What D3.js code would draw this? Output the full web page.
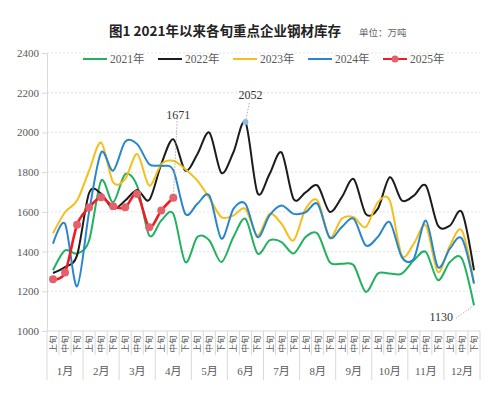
<!DOCTYPE html>
<html>
<head>
<meta charset="utf-8">
<script src="https://cdn.jsdelivr.net/npm/d3@7"></script>
<style>
  html, body { margin: 0; padding: 0; background: #fff; }
</style>
</head>
<body>
<div id="chart"></div>
<script>
// categories
const months = ['1月', '2月', '3月', '4月', '5月', '6月', '7月', '8月', '9月', '10月', '11月', '12月'];
const tenDays = ['上旬', '中旬', '下旬'];
const yTicks = [1000, 1200, 1400, 1600, 1800, 2000, 2200, 2400];

// values (万吨)
const v2021 = [1306, 1406, 1390, 1456, 1757, 1648, 1790, 1730, 1481, 1556, 1590, 1347,
               1473, 1456, 1347, 1473, 1565, 1390, 1456, 1448, 1390, 1473, 1490, 1347,
               1339, 1331, 1197, 1289, 1289, 1289, 1356, 1398, 1256, 1347, 1364, 1130];
const v2022 = [1292, 1322, 1381, 1695, 1692, 1615, 1657, 1710, 1660, 1840, 1966, 1807,
               1890, 1999, 1796, 1900, 2052, 1695, 1790, 1899, 1665, 1698, 1732, 1600,
               1673, 1765, 1590, 1615, 1774, 1657, 1682, 1732, 1531, 1531, 1598, 1306];
const v2023 = [1492, 1598, 1657, 1807, 1949, 1749, 1765, 1891, 1732, 1840, 1857, 1815,
               1757, 1670, 1573, 1582, 1615, 1481, 1590, 1540, 1456, 1615, 1657, 1473,
               1565, 1573, 1523, 1648, 1657, 1381, 1440, 1531, 1297, 1431, 1506, 1239];
const v2024 = [1440, 1540, 1225, 1600, 1899, 1807, 1954, 1941, 1840, 1832, 1810, 1590,
               1640, 1682, 1465, 1615, 1640, 1473, 1582, 1632, 1590, 1598, 1640, 1470,
               1523, 1565, 1431, 1473, 1548, 1372, 1364, 1556, 1322, 1415, 1465, 1239];
const v2025 = [1260, 1295, 1535, 1622, 1673, 1628, 1623, 1690, 1523, 1607, 1671];

const seriesNames = ['2021年', '2022年', '2023年', '2024年', '2025年'];
const seriesValues = [v2021, v2022, v2023, v2024, v2025];

(function() {
  const width = 500
      , height = 407
      , margin = {top: 53, right: 20, bottom: 76, left: 47}
      , colors = ['#22b25f', '#1c1c1c', '#f4bf1a', '#2a86cc', '#ee1d24']
      , gridColor = '#d9d9d9'
      , textColor = '#595959'
      , serif = 'Liberation Serif, DejaVu Serif, Noto Sans CJK SC, serif'
      , sans = 'Noto Sans CJK SC, sans-serif'
      ;

  const cats = d3.range(months.length * 3);

  const x = d3.scaleBand()
    .domain(cats)
    .range([margin.left, width - margin.right]);

  const y = d3.scaleLinear()
    .domain([1000, 2400])
    .range([height - margin.bottom, margin.top]);

  const cx = i => x(i) + x.bandwidth() / 2;

  const svg = d3.select('#chart')
    .append('svg')
    .attr('width', width)
    .attr('height', height)
    .style('display', 'block')
    .style('background', '#fff')
    ;

  // title
  svg.append('text')
    .attr('x', 225)
    .attr('y', 36)
    .attr('text-anchor', 'middle')
    .attr('font-family', sans)
    .attr('font-weight', 'bold')
    .attr('font-size', 13.5)
    .attr('fill', '#222')
    .text('图1  2021年以来各旬重点企业钢材库存');

  svg.append('text')
    .attr('x', 359)
    .attr('y', 36)
    .attr('font-family', sans)
    .attr('font-size', 9.5)
    .attr('fill', '#666')
    .text('单位：万吨');

  // gridlines
  svg.append('g')
    .selectAll('line')
    .data(yTicks.slice(1))
    .join('line')
      .attr('x1', margin.left)
      .attr('x2', width - margin.right)
      .attr('y1', d => y(d))
      .attr('y2', d => y(d))
      .attr('stroke', '#e3e3e3')
      .attr('stroke-dasharray', '2,2')
      ;

  // y axis
  const yAxis = svg.append('g')
    .attr('transform', `translate(${margin.left},0)`)
    .call(d3.axisLeft(y).tickValues(yTicks).tickFormat(d3.format('d')).tickSize(5).tickPadding(3))
    .attr('font-family', serif)
    .attr('font-size', 11)
    ;

  yAxis.select('.domain').attr('stroke', gridColor);
  yAxis.selectAll('.tick line').attr('stroke', gridColor);
  yAxis.selectAll('.tick text').attr('fill', textColor);

  // x axis as a two-row table
  const x0 = margin.left
      , x1 = width - margin.right
      , yBase = y(1000)
      ;

  svg.append('line')
    .attr('x1', x0).attr('x2', x1)
    .attr('y1', yBase).attr('y2', yBase)
    .attr('stroke', gridColor);

  svg.append('g')
    .selectAll('line')
    .data(cats.concat([cats.length]))
    .join('line')
      .attr('x1', d => d < cats.length ? x(d) : x1)
      .attr('x2', d => d < cats.length ? x(d) : x1)
      .attr('y1', yBase)
      .attr('y2', d => d % 3 === 0 ? yBase + 49 : yBase + 24)
      .attr('stroke', gridColor)
      ;

  svg.append('g')
    .selectAll('text')
    .data(cats)
    .join('text')
      .attr('transform', d => `translate(${cx(d) + 3},${yBase + 13}) rotate(-90)`)
      .attr('text-anchor', 'middle')
      .attr('font-family', sans)
      .attr('font-size', 8.5)
      .attr('fill', textColor)
      .text(d => tenDays[d % 3])
      ;

  svg.append('g')
    .selectAll('text')
    .data(months)
    .join('text')
      .attr('x', (d, i) => cx(i * 3 + 1))
      .attr('y', yBase + 44)
      .attr('text-anchor', 'middle')
      .attr('font-family', serif)
      .attr('font-size', 11)
      .attr('fill', textColor)
      .text(d => d)
      ;

  // lines
  const line = d3.line()
    .x((d, i) => cx(i))
    .y(d => y(d))
    .curve(d3.curveCardinal.tension(0.1));

  svg.append('g')
    .selectAll('path')
    .data(seriesValues)
    .join('path')
      .attr('fill', 'none')
      .attr('stroke', (d, i) => colors[i])
      .attr('stroke-width', (d, i) => i === 4 ? 2.6 : 2)
      .attr('d', line)
      ;

  svg.append('g')
    .selectAll('circle')
    .data(v2025)
    .join('circle')
      .attr('cx', (d, i) => cx(i))
      .attr('cy', d => y(d))
      .attr('r', 4)
      .attr('fill', '#e4606b')
      ;

  // value callouts
  const callouts = [
    {i: v2025.length - 1, v: v2025[v2025.length - 1], dx: 4, dy: -80, anchor: 'middle', tx: 5, ty: -79},
    {i: v2022.indexOf(2052), v: 2052, dx: 4, dy: -20, anchor: 'middle', tx: 5, ty: -23},
    {i: v2021.length - 1, v: v2021[v2021.length - 1], dx: -18, dy: 13, anchor: 'end', tx: -21, ty: 16}
  ];

  const co = svg.append('g')
    .selectAll('g')
    .data(callouts)
    .join('g')
      .attr('transform', d => `translate(${cx(d.i)},${y(d.v)})`)
      ;

  co.append('line')
    .attr('x1', 0).attr('y1', 0)
    .attr('x2', d => d.dx).attr('y2', d => d.dy)
    .attr('stroke', '#9a9a9a')
    .attr('stroke-width', 0.8)
    .attr('stroke-dasharray', '1.5,1.5');

  co.append('text')
    .attr('x', d => d.tx)
    .attr('y', d => d.ty)
    .attr('text-anchor', d => d.anchor)
    .attr('font-family', serif)
    .attr('font-size', 12)
    .attr('fill', '#333')
    .text(d => d.v);

  svg.append('circle')
    .attr('cx', cx(v2022.indexOf(2052)))
    .attr('cy', y(2052))
    .attr('r', 3)
    .attr('fill', '#8db9de');

  // legend
  const legend = svg.append('g')
    .selectAll('g')
    .data(seriesNames)
    .join('g')
      .attr('transform', (d, i) => `translate(${83 + i * 75},59)`)
      ;

  legend.append('line')
    .attr('x1', 0).attr('x2', 24)
    .attr('stroke', (d, i) => colors[i])
    .attr('stroke-width', 2);

  legend.filter((d, i) => i === 4)
    .append('circle')
    .attr('cx', 12)
    .attr('r', 3.5)
    .attr('fill', '#e4606b');

  legend.append('text')
    .attr('x', 27)
    .attr('y', 4)
    .attr('font-family', serif)
    .attr('font-size', 11.5)
    .attr('fill', textColor)
    .text(d => d);
})();
</script>
</body>
</html>
